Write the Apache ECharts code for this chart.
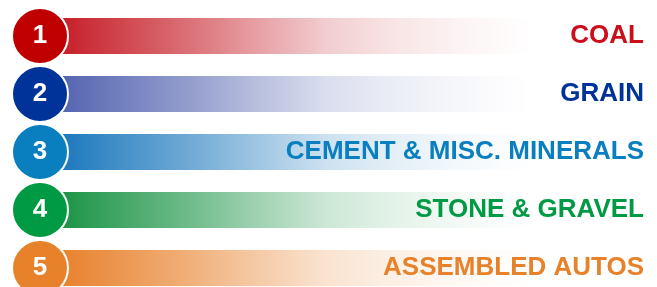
<!DOCTYPE html>
<html>
<head>
<meta charset="utf-8">
<script src="https://cdn.jsdelivr.net/npm/echarts@6/dist/echarts.min.js"></script>
<style>
  html, body { margin: 0; padding: 0; background: #ffffff; }
  #chart { width: 657px; height: 287px; }
</style>
</head>
<body>
<div id="chart"></div>
<script>
// ranked commodities, top to bottom
var categories = ['COAL', 'GRAIN', 'CEMENT & MISC. MINERALS', 'STONE & GRAVEL', 'ASSEMBLED AUTOS'];
var ranks = [1, 2, 3, 4, 5];
var barLength = [100, 99, 100, 100, 100];

// styles
var circleColors = ['#c00000', '#003399', '#0a7fc0', '#009a44', '#e8822a'];
var barColors = ['198,30,40', '84,100,176', '28,120,189', '27,148,70', '232,129,44'];
var textColors = ['#cc0d1a', '#003399', '#0a7fc0', '#009a44', '#e8822a'];

var myChart = echarts.init(document.getElementById('chart'));

function barGradient(rgb) {
    var stops = [[0, 1], [0.04, 1], [0.31, 0.62], [0.44, 0.42], [0.58, 0.22], [0.71, 0.12], [0.85, 0.05], [1, 0]];
    return new echarts.graphic.LinearGradient(0, 0, 1, 0, stops.map(function (s) {
        return { offset: s[0], color: 'rgba(' + rgb + ',' + s[1] + ')' };
    }));
}

var barData = [];
var circleData = [];
for (var i = 0; i < categories.length; i++) {
    barData.push({
        value: barLength[i],
        itemStyle: { color: barGradient(barColors[i]) }
    });
    circleData.push({
        value: [0, categories[i]],
        rank: ranks[i],
        itemStyle: { color: circleColors[i] }
    });
}

var option = {
    backgroundColor: '#ffffff',
    animation: false,
    grid: { left: 40, right: 122, top: 7, height: 290, outerBoundsMode: 'none', containLabel: false },
    xAxis: {
        type: 'value',
        min: 0,
        max: 100,
        show: false
    },
    yAxis: {
        type: 'category',
        data: categories,
        inverse: true,
        position: 'right',
        z: 10,
        axisLine: { show: false },
        axisTick: { show: false },
        splitLine: { show: false },
        axisLabel: {
            margin: 109,
            align: 'right',
            padding: [5, 0, 0, 0],
            fontFamily: '"Liberation Sans", Arial, sans-serif',
            fontWeight: 'bold',
            fontSize: 26,
            color: function (value, index) {
                return textColors[index];
            }
        }
    },
    series: [
        {
            type: 'bar',
            data: barData,
            barWidth: 36,
            z: 2
        },
        {
            type: 'scatter',
            data: circleData,
            symbol: 'circle',
            symbolSize: 56,
            z: 5,
            itemStyle: {
                borderColor: '#ffffff',
                borderWidth: 2,
                opacity: 1
            },
            label: {
                show: true,
                position: 'inside',
                formatter: function (p) { return p.data.rank; },
                color: '#ffffff',
                fontFamily: '"Liberation Sans", Arial, sans-serif',
                fontWeight: 'bold',
                fontSize: 26
            }
        }
    ]
};

myChart.setOption(option);
</script>
</body>
</html>
